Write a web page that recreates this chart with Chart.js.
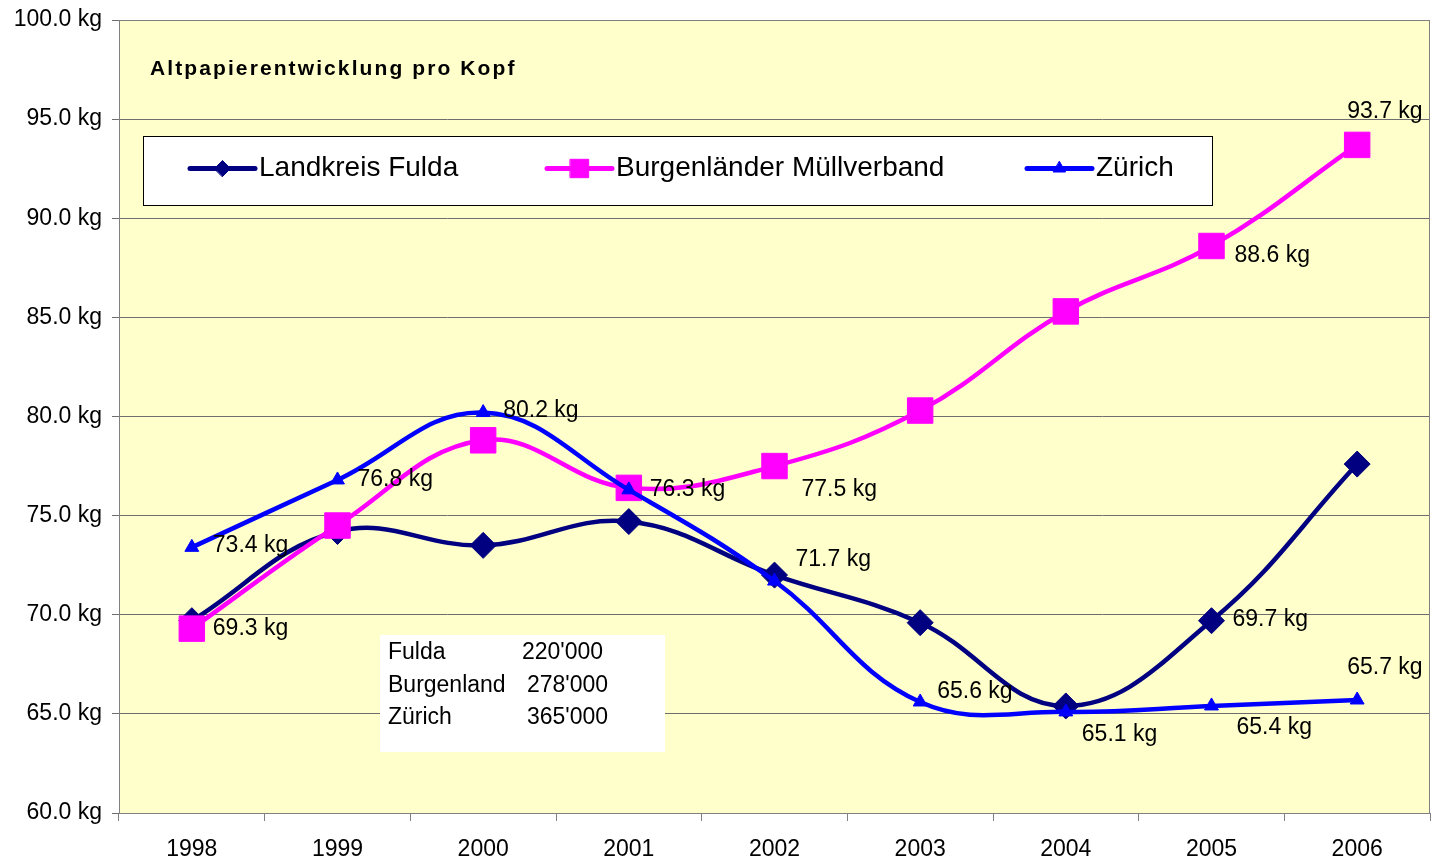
<!DOCTYPE html>
<html><head><meta charset="utf-8">
<script src="https://cdn.jsdelivr.net/npm/chart.js@4/dist/chart.umd.min.js"></script>
<style>html,body{margin:0;padding:0;background:#fff;overflow:hidden;}canvas{display:block;}</style>
</head><body><canvas id="c" width="1431" height="859" style="width:1431px;height:859px"></canvas>
<script>
// ---- data ----
const years = ['1998','1999','2000','2001','2002','2003','2004','2005','2006'];
const fulda = [69.7, 74.2, 73.5, 74.7, 72.0, 69.6, 65.4, 69.7, 77.6];
const burgenland = [69.3, 74.5, 78.8, 76.4, 77.5, 80.3, 85.3, 88.6, 93.7];
const zuerich = [73.4, 76.8, 80.2, 76.3, 71.7, 65.6, 65.1, 65.4, 65.7];
const seriesNames = ['Landkreis Fulda', 'Burgenländer Müllverband', 'Zürich'];
const yMin = 60, yMax = 100, yStep = 5;
const titleText = 'Altpapierentwicklung pro Kopf';
const boxNames = ['Fulda', 'Burgenland', 'Zürich'];
const boxValues = ["220'000", "278'000", "365'000"];
// indices of points that carry a value label, per series
const labelledPoints = [[7], [0, 4, 7, 8], [0, 1, 2, 3, 4, 5, 6, 7, 8]];

// ---- style / placement ----
const FONT = "'Liberation Sans', Arial, sans-serif";
const labelOffsets = {
  '0-7': [21, -1],
  '1-0': [21, 0], '1-4': [27, 24], '1-7': [23, 10], '1-8': [-10, -33],
  '2-0': [21, -2], '2-1': [20, 0], '2-2': [20, -2], '2-3': [21, 0], '2-4': [21, -21],
  '2-5': [17, -10], '2-6': [16, 23], '2-7': [25, 22], '2-8': [-10, -32]
};
const styles = [
  {color: '#000080', pointStyle: 'rectRot', radius: 13, legendRadius: 8, order: 3},
  {color: '#FF00FF', pointStyle: 'rect', radius: 18, legendRadius: 13, order: 2},
  {color: '#0000FF', pointStyle: 'triangle', radius: 8, legendRadius: 7, order: 1}
];
const legendBox = {x: 143, y: 136, w: 1069, h: 69, itemX: [190, 547, 1027], lineLen: 65};
const textBox = {x: 380, y: 635, w: 285, h: 117, nameX: 388, valX: [522, 527, 527], rowY: [653, 686, 718]};

const seriesData = [fulda, burgenland, zuerich];

const deco = {
  id: 'deco',
  beforeDraw(chart) {
    const {ctx, chartArea: a} = chart;
    ctx.save();
    ctx.fillStyle = '#fff';
    ctx.fillRect(0, 0, chart.width, chart.height);
    ctx.fillStyle = '#FFFFCC';
    ctx.fillRect(a.left, a.top, a.right - a.left, a.bottom - a.top);
    ctx.restore();
  },
  beforeDatasetsDraw(chart) {
    const {ctx} = chart;
    ctx.save();
    ctx.fillStyle = '#fff';
    ctx.fillRect(textBox.x, textBox.y, textBox.w, textBox.h);
    ctx.fillStyle = '#000';
    ctx.font = '23px ' + FONT;
    ctx.textBaseline = 'middle';
    ctx.textAlign = 'left';
    boxNames.forEach((n, i) => {
      ctx.fillText(n, textBox.nameX, textBox.rowY[i]);
      ctx.fillText(boxValues[i], textBox.valX[i], textBox.rowY[i]);
    });
    ctx.restore();
  },
  afterDatasetsDraw(chart) {
    const {ctx} = chart;
    ctx.save();
    ctx.fillStyle = '#000';
    ctx.font = '23px ' + FONT;
    ctx.textBaseline = 'middle';
    ctx.textAlign = 'left';
    labelledPoints.forEach((idxs, s) => {
      const meta = chart.getDatasetMeta(s);
      idxs.forEach(i => {
        const p = meta.data[i];
        const off = labelOffsets[s + '-' + i] || [20, 0];
        const v = chart.data.datasets[s].data[i];
        ctx.fillText(v.toFixed(1) + ' kg', p.x + off[0], p.y + off[1]);
      });
    });
    ctx.restore();
  },
  afterDraw(chart) {
    const {ctx, chartArea: a} = chart;
    ctx.save();
    // plot border
    ctx.strokeStyle = '#808080';
    ctx.lineWidth = 1;
    ctx.strokeRect(a.left + 0.5, a.top + 0.5, a.right - a.left - 1, a.bottom - a.top);
    // title
    ctx.fillStyle = '#000';
    ctx.font = 'bold 21px ' + FONT;
    ctx.letterSpacing = '2.1px';
    ctx.textBaseline = 'middle';
    ctx.textAlign = 'left';
    ctx.fillText(titleText, 150, 69);
    ctx.letterSpacing = '0px';
    // legend
    ctx.fillStyle = '#fff';
    ctx.fillRect(legendBox.x, legendBox.y, legendBox.w, legendBox.h);
    ctx.strokeStyle = '#000';
    ctx.strokeRect(legendBox.x + 0.5, legendBox.y + 0.5, legendBox.w, legendBox.h);
    const cy = legendBox.y + legendBox.h / 2 - 2;
    chart.data.datasets.forEach((ds, s) => {
      const st = styles[s];
      const x0 = legendBox.itemX[s];
      ctx.strokeStyle = st.color;
      ctx.lineWidth = 5;
      ctx.lineCap = 'round';
      ctx.beginPath();
      ctx.moveTo(x0, cy);
      ctx.lineTo(x0 + legendBox.lineLen, cy);
      ctx.stroke();
      ctx.fillStyle = st.color;
      ctx.lineWidth = 1;
      Chart.helpers.drawPoint(ctx, {pointStyle: st.pointStyle, radius: st.legendRadius, rotation: 0, borderWidth: 1}, x0 + legendBox.lineLen / 2, cy);
      ctx.fillStyle = '#000';
      ctx.font = '28px ' + FONT;
      ctx.fillText(ds.label, x0 + legendBox.lineLen + 4, cy);
    });
    ctx.restore();
  }
};

new Chart(document.getElementById('c'), {
  type: 'line',
  data: {
    labels: years,
    datasets: seriesData.map((d, s) => ({
      label: seriesNames[s],
      data: d,
      borderColor: styles[s].color,
      backgroundColor: styles[s].color,
      pointBackgroundColor: styles[s].color,
      pointBorderColor: styles[s].color,
      pointStyle: styles[s].pointStyle,
      pointRadius: styles[s].radius,
      pointHoverRadius: styles[s].radius,
      pointBorderWidth: 1,
      borderWidth: 4.5,
      tension: 0.4,
      fill: false,
      clip: false,
      order: styles[s].order
    }))
  },
  options: {
    responsive: false,
    animation: false,
    events: [],
    layout: {autoPadding: false, padding: {top: 20, right: 1, left: 0, bottom: 0}},
    plugins: {legend: {display: false}, tooltip: {enabled: false}, title: {display: false}},
    scales: {
      x: {
        offset: true,
        grid: {offset: true, drawOnChartArea: false, drawTicks: true, tickLength: 8, color: '#808080'},
        border: {color: '#808080'},
        ticks: {color: '#000', font: {family: FONT, size: 23}, padding: 15, maxRotation: 0},
        afterFit(scale) { scale.height = 46; scale.paddingLeft = 0; scale.paddingRight = 0; }
      },
      y: {
        min: yMin, max: yMax,
        grid: {color: '#6e6e6e', tickLength: 7},
        border: {color: '#808080'},
        ticks: {stepSize: yStep, color: '#000', font: {family: FONT, size: 23}, padding: 10,
          callback: v => v.toFixed(1) + ' kg'},
        afterFit(scale) { scale.width = 119; scale.paddingTop = 0; scale.paddingBottom = 0; }
      }
    }
  },
  plugins: [deco]
});
</script>
</body></html>
